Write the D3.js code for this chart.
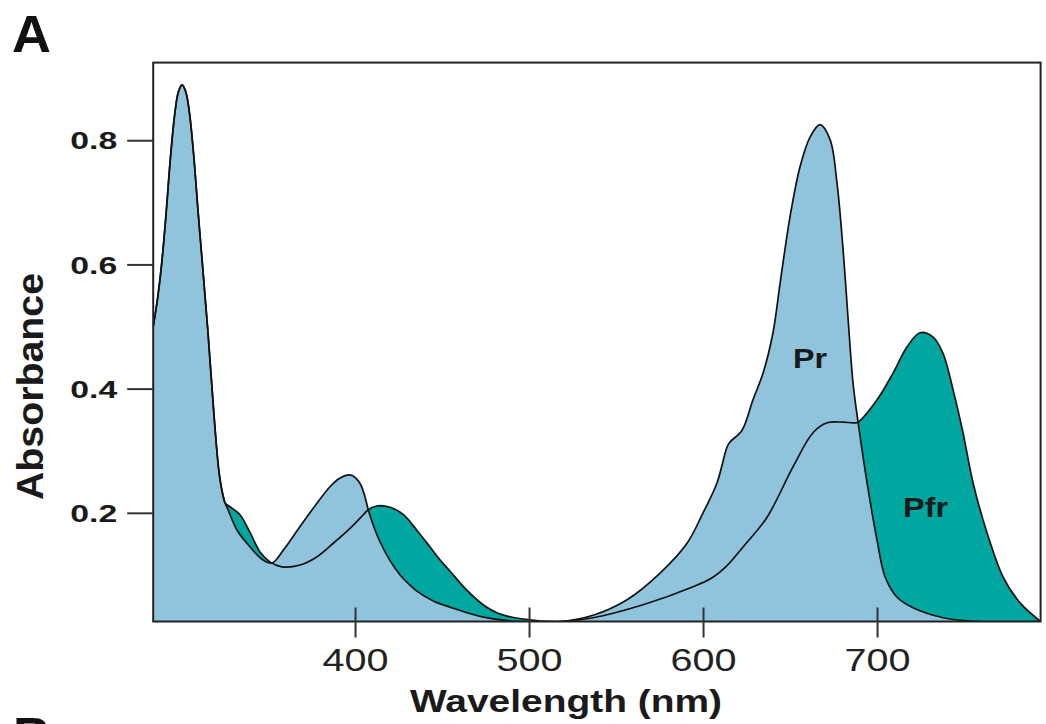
<!DOCTYPE html>
<html>
<head>
<meta charset="utf-8">
<script src="https://cdn.jsdelivr.net/npm/d3@7"></script>
<style>
  html, body { margin: 0; padding: 0; background: #fff; }
  svg { display: block; }
  text { font-family: "Liberation Sans", Arial, Helvetica, sans-serif; }
</style>
</head>
<body>
<svg id="chart" width="1046" height="724"></svg>
<script>
// ---------- data ----------
const prWavelength = [284.0, 286.5, 289.0, 291.5, 294.0, 296.5, 298.5, 300.6, 302.7, 304.8, 307.3, 309.8, 312.3, 315.5, 319.0,
  322.0, 324.7, 325.3, 327.0, 332.2, 339.7, 347.1, 352.3, 358.8, 368.4, 378.0, 385.6, 391.4, 397.1, 400.5, 403.5, 405.5,
  407.6, 410.5, 414.4, 420.1, 425.9, 431.0, 435.5, 445.0, 454.6, 473.6, 493.1, 517.8, 536.8, 556.3, 575.3, 590.8, 600.0,
  608.0, 613.8, 615.5, 622.4, 628.7, 634.5, 640.2, 644.3, 650.0, 655.7, 661.5, 667.2, 673.0, 677.0, 680.5, 683.3, 686.2,
  689.1, 694.3, 700.0, 704.6, 711.5, 720.7, 737.9, 757.5, 794.0];
const prAbsorbance = [0.50, 0.545, 0.605, 0.685, 0.775, 0.845, 0.878, 0.889, 0.878, 0.845, 0.775, 0.685, 0.60, 0.49, 0.355,
  0.262, 0.221, 0.216, 0.205, 0.172, 0.145, 0.124, 0.119, 0.140, 0.178, 0.215, 0.242, 0.256, 0.261, 0.256, 0.244, 0.228,
  0.205, 0.180, 0.153, 0.123, 0.100, 0.085, 0.074, 0.058, 0.048, 0.032, 0.025, 0.025, 0.035, 0.060, 0.103, 0.151, 0.200,
  0.248, 0.306, 0.314, 0.333, 0.382, 0.425, 0.490, 0.570, 0.677, 0.757, 0.805, 0.825, 0.801, 0.731, 0.623, 0.515, 0.409,
  0.346, 0.248, 0.156, 0.097, 0.064, 0.047, 0.031, 0.025, 0.025];

const pfrWavelength = [284.0, 286.5, 289.0, 291.5, 294.0, 296.5, 298.5, 300.6, 302.7, 304.8, 307.3, 309.8, 312.3, 315.5, 319.0,
  322.0, 324.7, 325.3, 329.0, 333.9, 339.7, 345.4, 351.1, 357.9, 368.4, 378.0, 387.5, 397.1, 404.8, 407.6, 412.5, 420.1,
  427.8, 435.5, 443.1, 448.9, 454.6, 464.4, 473.6, 483.3, 496.6, 517.8, 536.8, 565.5, 594.3, 605.0, 613.8, 623.0, 636.8,
  651.7, 663.2, 671.3, 680.5, 686.2, 689.1, 700.0, 709.2, 717.2, 724.7, 732.2, 737.9, 743.7, 749.4, 755.2, 763.2, 772.4,
  782.2, 794.0];
const pfrAbsorbance = [0.50, 0.545, 0.605, 0.685, 0.775, 0.845, 0.878, 0.889, 0.878, 0.845, 0.775, 0.685, 0.60, 0.49, 0.355,
  0.262, 0.221, 0.216, 0.208, 0.197, 0.168, 0.137, 0.121, 0.113, 0.116, 0.129, 0.151, 0.175, 0.197, 0.205, 0.211, 0.209,
  0.197, 0.172, 0.145, 0.124, 0.106, 0.075, 0.052, 0.037, 0.029, 0.025, 0.031, 0.052, 0.081, 0.095, 0.115, 0.145, 0.193,
  0.274, 0.329, 0.345, 0.346, 0.345, 0.346, 0.382, 0.425, 0.467, 0.490, 0.483, 0.457, 0.398, 0.329, 0.248, 0.168, 0.097,
  0.055, 0.025];

const xTickValues = [400, 500, 600, 700];
const yTickValues = [0.2, 0.4, 0.6, 0.8];
const yTickLabels = ["0.2", "0.4", "0.6", "0.8"];
const seriesNames = ["Pr", "Pfr"];
const seriesLabelWavelength = [661.5, 727.9];
const seriesLabelAbsorbance = [0.433, 0.193];

// ---------- layout ----------
const svg = d3.select("#chart");
const x = d3.scaleLinear().domain([284, 794]).range([153.2, 1040.6]);
const y = d3.scaleLinear().domain([0.025, 0.925]).range([621.5, 62.6]);
const FONT = '"Liberation Sans", Arial, Helvetica, sans-serif';
const colPr = "#8FC4DC", colPfr = "#00A7A1";

const pr = prWavelength.map((w, i) => ({ w, a: prAbsorbance[i] }));
const pfr = pfrWavelength.map((w, i) => ({ w, a: pfrAbsorbance[i] }));

svg.append("defs").append("clipPath").attr("id", "plotClip")
  .append("rect")
  .attr("x", x.range()[0]).attr("y", y.range()[1])
  .attr("width", x.range()[1] - x.range()[0])
  .attr("height", y.range()[0] - y.range()[1]);

const curve = d3.curveCatmullRom.alpha(0.5);
const area = d3.area().curve(curve)
  .x(d => x(d.w)).y0(y(0.025)).y1(d => y(d.a));
const line = d3.line().curve(curve)
  .x(d => x(d.w)).y(d => y(d.a));

const plot = svg.append("g").attr("clip-path", "url(#plotClip)");
plot.append("path").datum(pfr).attr("d", area).attr("fill", colPfr);
plot.append("path").datum(pr).attr("d", area).attr("fill", colPr);
plot.append("path").datum(pfr).attr("d", line).attr("fill", "none")
  .attr("stroke", "#111").attr("stroke-width", 1.7).attr("stroke-linejoin", "round");
plot.append("path").datum(pr).attr("d", line).attr("fill", "none")
  .attr("stroke", "#111").attr("stroke-width", 1.7).attr("stroke-linejoin", "round");

// series labels
seriesNames.forEach((name, i) => {
  svg.append("text")
    .attr("x", x(seriesLabelWavelength[i]))
    .attr("y", y(seriesLabelAbsorbance[i]))
    .attr("text-anchor", "middle")
    .attr("font-family", FONT).attr("font-weight", "bold")
    .attr("font-size", 28).attr("fill", "#1a1a1a")
    .attr("textLength", name === "Pr" ? 34 : 45)
    .attr("lengthAdjust", "spacingAndGlyphs")
    .text(name);
});

// frame
svg.append("rect")
  .attr("x", x.range()[0]).attr("y", y.range()[1])
  .attr("width", x.range()[1] - x.range()[0])
  .attr("height", y.range()[0] - y.range()[1])
  .attr("fill", "none").attr("stroke", "#222").attr("stroke-width", 2);

// y axis
const yAxis = svg.append("g").attr("transform", `translate(${x.range()[0]},0)`)
  .call(d3.axisLeft(y).tickValues(yTickValues).tickSize(26).tickPadding(10)
    .tickFormat((d, i) => yTickLabels[i]));
yAxis.select(".domain").remove();
yAxis.selectAll(".tick line").attr("stroke", "#333").attr("stroke-width", 2);
yAxis.selectAll(".tick text")
  .attr("font-family", FONT).attr("font-weight", "bold").attr("font-size", 24)
  .attr("fill", "#1a1a1a").attr("dy", "0.36em")
  .attr("textLength", 47).attr("lengthAdjust", "spacingAndGlyphs");

// x axis
const xAxis = svg.append("g").attr("transform", `translate(0,${y.range()[0]})`)
  .call(d3.axisBottom(x).tickValues(xTickValues).tickSize(16).tickFormat(d3.format("d")));
xAxis.select(".domain").remove();
xAxis.selectAll(".tick line").attr("y1", -14).attr("y2", 16)
  .attr("stroke", "#333").attr("stroke-width", 2);
xAxis.selectAll(".tick text")
  .attr("font-family", FONT).attr("font-weight", "normal").attr("font-size", 32)
  .attr("fill", "#222").attr("y", 49).attr("dy", 0)
  .attr("textLength", 66).attr("lengthAdjust", "spacingAndGlyphs");

// axis titles
svg.append("text")
  .attr("x", 566).attr("y", 712)
  .attr("text-anchor", "middle")
  .attr("font-family", FONT).attr("font-weight", "bold").attr("font-size", 31)
  .attr("fill", "#1a1a1a")
  .attr("textLength", 312).attr("lengthAdjust", "spacingAndGlyphs")
  .text("Wavelength (nm)");

svg.append("text")
  .attr("transform", "translate(43,386.5) rotate(-90)")
  .attr("text-anchor", "middle")
  .attr("font-family", FONT).attr("font-weight", "bold").attr("font-size", 36)
  .attr("fill", "#1a1a1a")
  .attr("textLength", 227).attr("lengthAdjust", "spacingAndGlyphs")
  .text("Absorbance");

// panel letters (the "B" of the next panel is cut by the bottom edge, as in the source figure)
svg.append("text")
  .attr("x", 12).attr("y", 52)
  .attr("font-family", FONT).attr("font-weight", "bold").attr("font-size", 52)
  .attr("fill", "#111")
  .attr("textLength", 39).attr("lengthAdjust", "spacingAndGlyphs")
  .text("A");
svg.append("text")
  .attr("x", 13).attr("y", 754)
  .attr("font-family", FONT).attr("font-weight", "bold").attr("font-size", 52)
  .attr("fill", "#111")
  .text("B");
</script>
</body>
</html>
